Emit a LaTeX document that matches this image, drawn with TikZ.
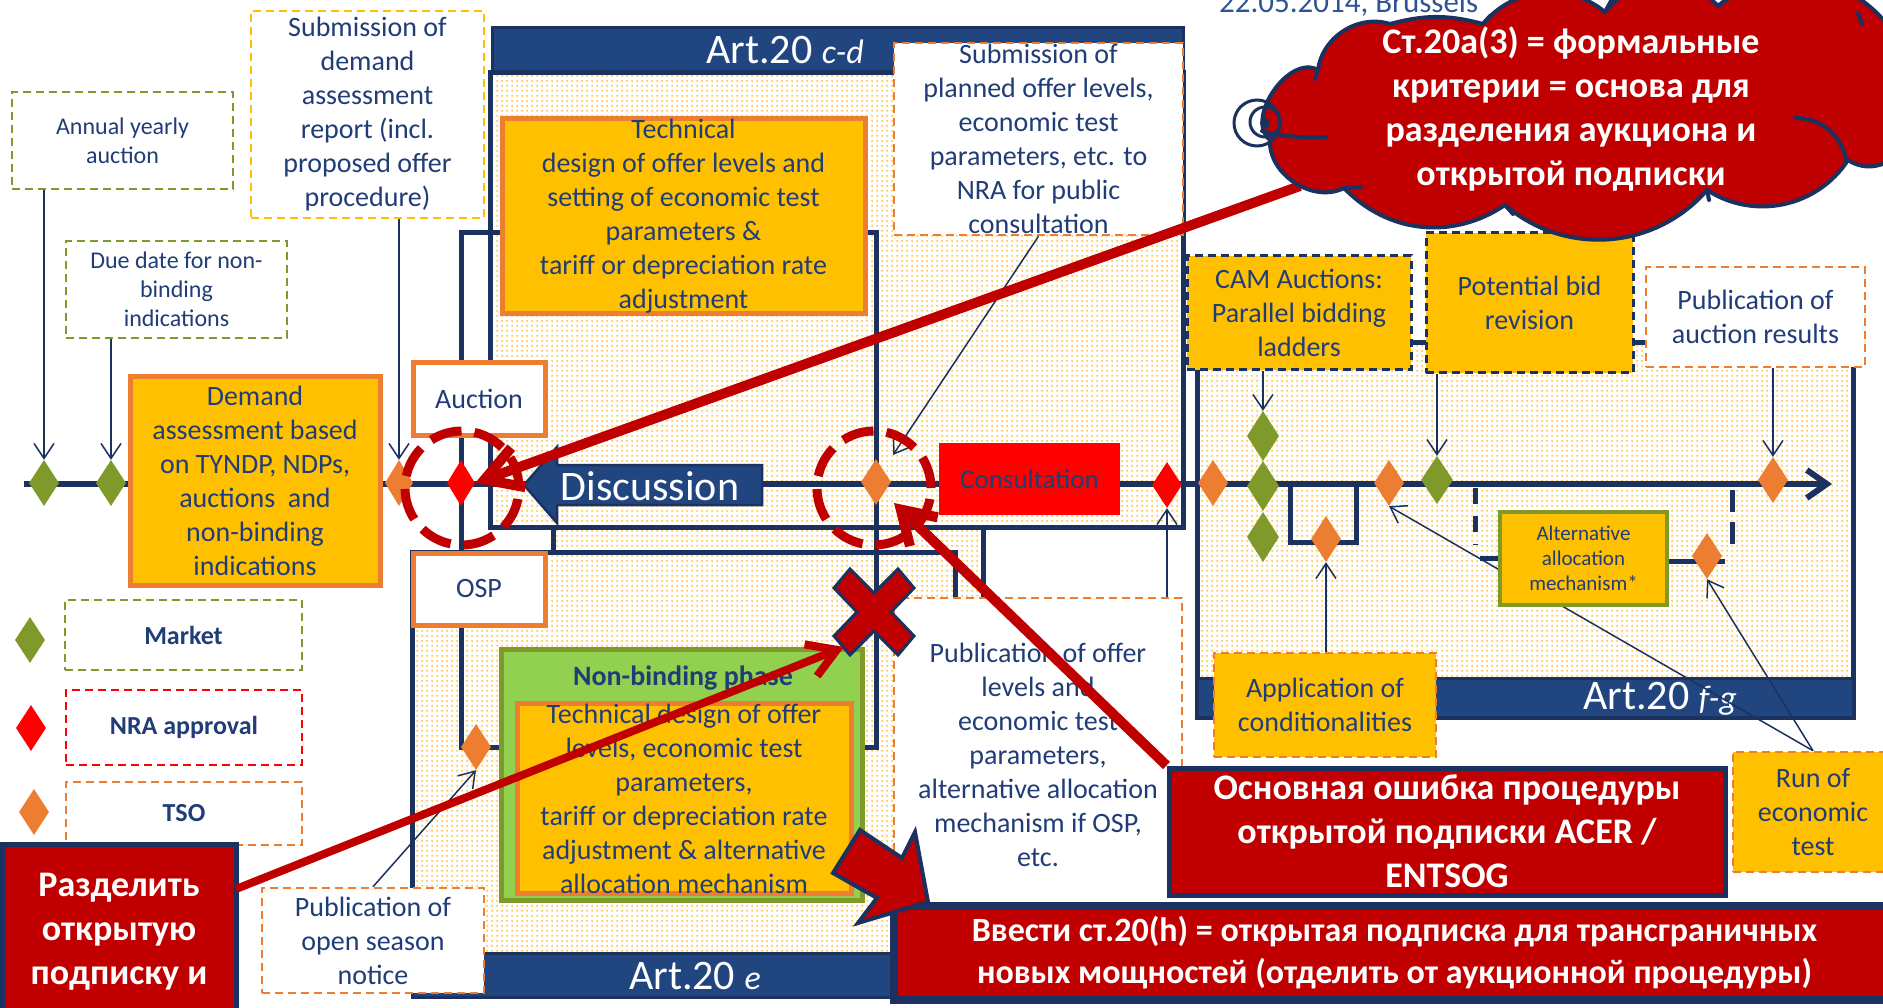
\documentclass[tikz,border=0pt]{standalone}
\usepackage{fontspec}
\setmainfont{Carlito}
\usetikzlibrary{shapes.geometric,arrows.meta,patterns.meta}

\definecolor{navy}{HTML}{1B3160}
\definecolor{txtblue}{HTML}{203D78}
\definecolor{hdrblue}{HTML}{21457F}
\definecolor{olive}{HTML}{7F9A2A}
\definecolor{orng}{HTML}{ED7D31}
\definecolor{yel}{HTML}{FFC000}
\definecolor{dred}{HTML}{C00000}
\definecolor{lgreen}{HTML}{92D050}
\definecolor{dotcol}{HTML}{FFC94A}
\definecolor{datecol}{HTML}{2E5496}

\tikzdeclarepattern{name=ydots, type=colored,
  bounding box={(0pt,0pt) and (5pt,5pt)}, tile size={(5pt,5pt)},
  code={\fill[dotcol] (2.5pt,2.5pt) circle[radius=1.35pt];}}

\tikzset{
  dotbox/.style={preaction={fill=white}, pattern=ydots, draw=navy, line width=5pt},
  hdr/.style={fill=hdrblue, draw=navy, line width=3pt},
  hdrtxt/.style={text=white, font=\fontsize{42}{42}\selectfont, inner sep=0pt},
  txt/.style={text=txtblue, align=center, font=\fontsize{28}{34}\selectfont},
  smtxt/.style={text=txtblue, align=center, font=\fontsize{24}{29}\selectfont},
  bx/.style n args={2}{rectangle, minimum width=#1pt, minimum height=#2pt, inner sep=0pt},
  dashbox/.style={draw=#1, dash pattern=on 8pt off 5pt, line width=2.5pt, fill=white},
  solidbox/.style={draw=#1, line width=5pt, fill=yel},
  dia/.style={diamond, fill=#1, inner sep=0pt, minimum width=30pt, minimum height=46pt},
  tarr/.style={draw=navy, line width=1.5pt, -{Straight Barb[length=15pt,width=20pt]}},
  redtxt/.style={text=white, align=center, font=\bfseries\fontsize{36}{44}\selectfont},
  redbox/.style={fill=dred, draw=navy, line width=5pt},
  legtxt/.style={text=txtblue, font=\bfseries\fontsize{26}{30}\selectfont},
  reddash/.style={draw=dred, line width=9pt, dash pattern=on 32pt off 13pt},
  cloudline/.style={draw=navy, line width=4pt, line cap=round},
}

\begin{document}
\begin{tikzpicture}[x=1pt,y=-1pt]
\useasboundingbox (0,0) rectangle (1883,1008);
\fill[white] (0,0) rectangle (1883,1008);

% date (cut at top, as in the reference)
\node[anchor=base west, text=datecol, font=\fontsize{31}{34}\selectfont, inner sep=0pt] (date) at (1219,13) {22.05.2014, Brussels};

% lanes
\draw[dotbox] (553,527) rectangle (983,955);
\draw[dotbox] (412,552) rectangle (955,955);
\draw[dotbox] (490,73) rectangle (1183,527);
\draw[hdr] (492,28) rectangle (1183,72);
\node[hdrtxt] (cdlab) at (785,50) {Art.20 {\itshape\fontsize{34}{34}\selectfont c-d}};
\draw[hdr] (412,953) rectangle (983,997);
\node[hdrtxt] (elab) at (695,976) {Art.20 {\itshape\fontsize{34}{34}\selectfont e}};
\draw[dotbox] (1197,343) rectangle (1853,717);
\draw[hdr] (1197,678) rectangle (1853,717);
\node[hdrtxt] (fglab) at (1660,699) {Art.20 {\itshape\fontsize{34}{34}\selectfont f-g}};

% auction/OSP frame
\draw[navy, line width=5pt] (461,233) rectangle (876,747);

% timeline
\coordinate (tl0) at (24,484);
\coordinate (tl1) at (1832,484);
\draw[navy, line width=6pt, -{Straight Barb[length=20pt,width=28pt]}] (tl0) -- (tl1);

% brackets in f-g
\draw[navy, line width=5pt] (1290,484) -- (1290,542) -- (1356,542) -- (1356,484);
\draw[navy, line width=5pt, dash pattern=on 16pt off 12pt] (1475,488) -- (1475,545);
\draw[navy, line width=5pt] (1480,558) -- (1502,558);
\draw[navy, line width=5pt] (1665,561) -- (1725,561);
\draw[navy, line width=5pt, dash pattern=on 22pt off 10pt] (1732,490) -- (1732,553);

% diamonds
\node[dia=olive] (dA) at (44,483) {};
\node[dia=olive] (dB) at (111,483) {};
\node[dia=orng, minimum width=28pt] (dC) at (399,483) {};
\node[dia=red, minimum width=28pt] (dD) at (461,483) {};
\node[dia=orng] (dE) at (876,482) {};
\node[dia=red] (dF) at (1167,485) {};
\node[dia=orng] (dG) at (1213,483) {};
\node[dia=olive, minimum width=32pt, minimum height=50pt] (dH1) at (1263,436) {};
\node[dia=olive, minimum width=32pt, minimum height=50pt] (dH2) at (1263,486) {};
\node[dia=olive, minimum width=32pt, minimum height=50pt] (dH3) at (1263,537) {};
\node[dia=orng] (dI) at (1326,539) {};
\node[dia=orng] (dJ) at (1389,483) {};
\node[dia=olive, minimum width=32pt, minimum height=48pt] (dK) at (1437,480) {};
\node[dia=orng] (dM) at (1773,480) {};
\node[dia=orng] (dN) at (476,747) {};

% top-left notes
\node[dashbox=olive, bx={221}{97}, smtxt] (annual) at (122.5,140.5) {Annual yearly\\auction};
\node[dashbox=olive, bx={221}{97}, smtxt] (duedate) at (176.5,289.5) {Due date for non-\\binding\\indications};
\node[dashbox=yel, bx={233}{207}, txt] (subdem) at (367.5,114.5) {Submission of\\demand\\assessment\\report (incl.\\proposed offer\\procedure)};
\draw[tarr] (annual.south -| dA.north) -- (dA.north);
\draw[tarr] (duedate.south -| dB.north) -- (dB.north);
\draw[tarr] (subdem.south -| dC.north) -- (dC.north);

\node[solidbox=orng, bx={250}{208}, txt] (demand) at (255,481) {Demand\\assessment based\\on TYNDP, NDPs,\\auctions\ \ and\\non-binding\\indications};

\node[draw=orng, line width=5pt, fill=white, bx={132}{72}, txt] (auction) at (479,399) {Auction};
\node[draw=orng, line width=5pt, fill=white, bx={132}{72}, txt] (osp) at (479,589) {OSP};

\node[solidbox=orng, bx={363}{194}, txt] (tech1) at (683.5,216) {Technical\\ design of offer levels and\\setting of economic test\\parameters \&\\tariff or depreciation rate\\adjustment};

\node[dashbox=orng, bx={289}{192}, txt] (subplan) at (1038.5,139) {Submission of\\planned offer levels,\\economic test\\parameters, etc. to\\NRA for public\\consultation};
\coordinate (tipE) at (893,455);
\draw[tarr] (subplan.south) -- (tipE);

% discussion arrow
\draw[fill=hdrblue, draw=navy, line width=2.5pt] (524,485) -- (557,447) -- (557,465) -- (762,465) -- (762,505) -- (557,505) -- (557,523) -- cycle;
\node[text=white, font=\fontsize{42}{42}\selectfont, inner sep=0pt] (disc) at (650,486) {Discussion};

\node[fill=red, bx={181}{72}, text=txtblue, font=\fontsize{27}{32}\selectfont] (consult) at (1029.5,479) {Consultation};

% publication of offer levels
\node[dashbox=orng, bx={288}{362}] (puboff) at (1038,779) {};
\node[txt] (pubofftxt) at (1038,755) {Publication of offer\\levels and\\economic test\\parameters,\\alternative allocation\\mechanism if OSP,\\etc.};
\draw[tarr] (puboff.north -| dF.south) -- (dF.south);

% non-binding phase
\node[draw=olive, line width=5pt, fill=lgreen, bx={361}{251}] (nbp) at (681.5,774.5) {};
\node[text=txtblue, font=\bfseries\fontsize{28}{34}\selectfont] (nbptitle) at (683,678) {Non-binding phase};
\node[solidbox=orng, bx={334}{187}, txt] (tech2) at (684,798.5) {Technical design of offer\\levels, economic test\\parameters,\\tariff or depreciation rate\\adjustment \& alternative\\allocation mechanism};

\node[dashbox=orng, bx={222}{105}, txt] (pubopen) at (373,940.5) {Publication of\\open season\\notice};
\draw[tarr] (pubopen.north) -- (dN.south);

% legend
\node[dashbox=olive, bx={237}{70}, legtxt] (legM) at (183.5,635) {Market};
\node[dashbox=red, bx={236}{75}, legtxt] (legN) at (184,727.5) {NRA approval};
\node[dashbox=orng, bx={236}{63}, legtxt] (legT) at (184,813.5) {TSO};
\node[dia=olive] (ldM) at (30,640) {};
\node[dia=red] (ldN) at (31,728) {};
\node[dia=orng] (ldT) at (34,812) {};

% f-g boxes
\node[draw=navy, dash pattern=on 8pt off 5pt, line width=3pt, fill=yel, bx={224}{114}, txt] (cam) at (1299,313) {CAM Auctions:\\Parallel bidding\\ladders};
\node[draw=navy, dash pattern=on 8pt off 5pt, line width=3pt, fill=yel, bx={207}{140}, txt] (potbid) at (1529.5,303) {Potential bid\\revision};
\node[dashbox=orng, bx={219}{100}, txt] (pubauc) at (1755.5,317) {Publication of\\auction results};
\draw[tarr] (cam.south -| dH1.north) -- (dH1.north);
\draw[tarr] (potbid.south -| dK.north) -- (dK.north);
\draw[tarr] (pubauc.south -| dM.north) -- (dM.north);

\node[draw=orng, dash pattern=on 8pt off 5pt, line width=2.5pt, fill=yel, bx={222}{104}, txt] (applic) at (1325,705) {Application of\\conditionalities};
\draw[tarr] (applic.north -| dI.south) -- (dI.south);

\node[dia=orng] (dL) at (1707,556) {};
\node[draw=orng, dash pattern=on 8pt off 5pt, line width=2.5pt, fill=yel, bx={160}{120}, txt] (run) at (1813,812) {Run of\\economic\\test};
\draw[tarr] (run.north) -- (dL.south);
\draw[tarr] (run.north) -- (dJ.south);

\node[draw=olive, line width=4.5pt, fill=yel, bx={167}{93}, text=txtblue, align=center, font=\fontsize{21}{25}\selectfont] (alt) at (1583.5,558.5) {Alternative\\allocation\\mechanism*};

% red dashed circles
\draw[reddash] (462,488) circle[radius=57pt];
\draw[reddash] (874,488) circle[radius=57pt];

% red X
\coordinate (xmark) at (874,612);
\draw[shift={(874,612)}, fill=dred, draw=navy, line width=3pt]
  (-40,-24) -- (-24,-43) -- (0,-19) -- (24,-43) -- (40,-24) -- (17,0) -- (40,24) -- (24,43) -- (0,19) -- (-24,43) -- (-40,24) -- (-17,0) -- cycle;
\coordinate (xtip) at (844,647);

% red boxes
\node[redbox, bx={234}{176}, redtxt] (razd) at (119,932) {Разделить\\открытую\\подписку и};
\node[redbox, bx={556}{127}, redtxt] (osn) at (1447,831.5) {Основная ошибка процедуры\\открытой подписки ACER /\\ENTSOG};
\node[fill=dred, draw=navy, line width=8pt, bx={1001}{94}, text=white, align=center, font=\bfseries\fontsize{34}{42}\selectfont] (vvesti) at (1394.5,953) {Ввести ст.20(h) = открытая подписка для трансграничных\\новых мощностей (отделить от аукционной процедуры)};

% red connectors
\coordinate (ctip) at (894,503);
\coordinate (cloudtail) at (1300,186);
\coordinate (razdout) at (236,889);
\draw[draw=dred, line width=10pt, -{Straight Barb[length=36pt,width=42pt]}] (cloudtail) -- (dD.east);
\draw[draw=dred, line width=8pt, -{Straight Barb[length=28pt,width=34pt]}] (razdout) -- (xtip);
\draw[draw=dred, line width=10pt, -{Straight Barb[length=32pt,width=40pt]}] (osn.north west) -- (ctip);

% block arrow
\draw[fill=dred, draw=navy, line width=4pt, line join=miter] (833,873) -- (860,830) -- (902,858) -- (915,832) -- (928,902) -- (858,923) -- (877,898) -- cycle;

% cloud (custom outline)
\draw[fill=dred, draw=navy, line width=4pt, line join=round]
  (1344,188) to[bend left=60] (1270,140) to[bend left=85] (1318,70)
  to[bend left=50] (1390,24) to[bend left=15] (1483,24)
  to[bend left=45] (1605,12) to[bend left=50] (1718,6)
  to[bend left=45] (1885,22) to[bend left=60] (1900,150) to[bend left=45] (1848,160)
  to[bend left=45] (1707,190) to[bend left=45] (1505,205) to[bend left=40] (1344,188) -- cycle;
% inner puff arcs
\draw[cloudline] (1262,131) to[bend right=8] (1326,137);
\draw[cloudline] (1795,118) to[bend left=40] (1846,160);
\draw[cloudline] (1318,70) -- (1315,79);
\draw[cloudline] (1505,205) -- (1513,214);
\draw[cloudline] (1707,190) -- (1709,200);
\draw[cloudline] (1605,12) -- (1611,1);
\draw[cloudline] (1718,6) -- (1726,0);
\draw[cloudline] (1344,188) -- (1361,187);
\draw[cloudline] (1858,13) -- (1862,24);
\draw[cloudline] (1483,24) -- (1490,16);
% thought bubbles
\draw[navy, line width=3pt] (1257,123) circle[radius=23pt];
\draw[navy, line width=3pt] (1265,122) circle[radius=15pt];
\fill[navy] (1265,123) circle[radius=5pt];
\node[redtxt] (cloudtxt) at (1571,109) {Ст.20а(3) = формальные\\критерии = основа для\\разделения аукциона и\\открытой подписки};
\end{tikzpicture}
\end{document}
